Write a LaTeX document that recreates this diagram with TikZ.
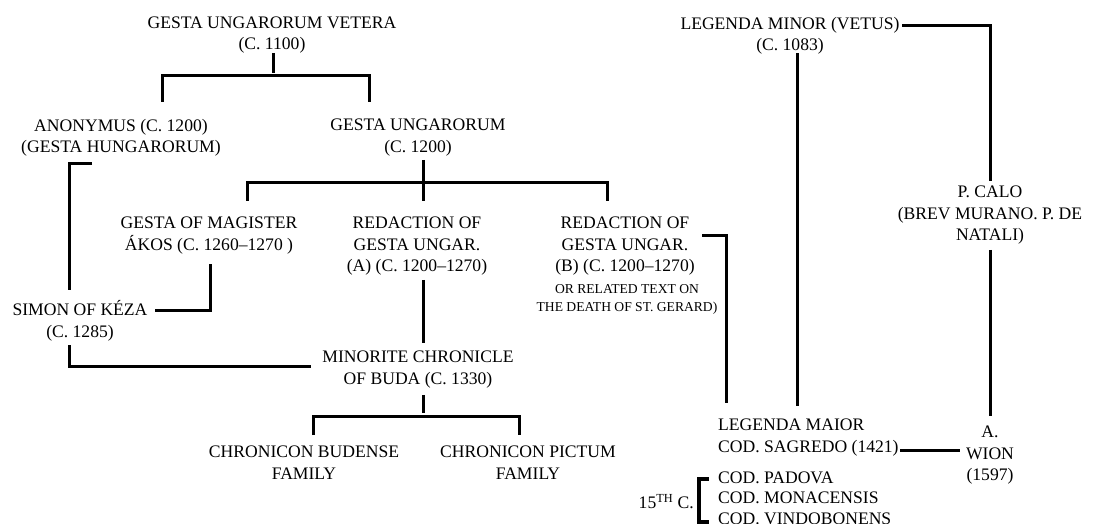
\documentclass[tikz,border=0pt]{standalone}
\usepackage{fontspec}
\setmainfont{Liberation Serif}
\usetikzlibrary{calc}
\begin{document}
\begin{tikzpicture}[x=1pt,y=-1pt,
  txt/.style={inner sep=0pt, align=center, anchor=north,
    font=\fontsize{17.6}{21.7}\selectfont,
    execute at begin node=\strut, execute at end node=\strut},
  small/.style={txt, font=\fontsize{13.6}{18}\selectfont},
  conn/.style={line width=3pt}]
\useasboundingbox (0,0) rectangle (1093,524);
\fill[white] (0,0) rectangle (1093,524);
\clip (0,0) rectangle (1093,524);

% ---- nodes ----
\node[txt] (vetera) at (272,16.3) {GESTA UNGARORUM VETERA\\(C. 1100)};
\node[txt] (anon) at (121,118.6) {ANONYMUS (C. 1200)\\(GESTA HUNGARORUM)};
\node[txt] (gesta) at (418,118.6) {GESTA UNGARORUM\\(C. 1200)};
\node[txt] (akos) at (209,216.6) {GESTA OF MAGISTER\\ÁKOS (C. 1260\textendash1270 )};
\node[txt] (redA) at (417,216.6) {REDACTION OF\\GESTA UNGAR.\\(A) (C. 1200\textendash1270)};
\node[txt] (redB) at (625,216.6) {REDACTION OF\\GESTA UNGAR.\\(B) (C. 1200\textendash1270)};
\node[small] (redBnote) at (627,284.3) {OR RELATED TEXT ON\\THE DEATH OF ST. GERARD)};
\node[txt] (simon) at (80,300.6) {SIMON OF KÉZA\\(C. 1285)};
\node[txt] (minorite) at (418,350.6) {MINORITE CHRONICLE\\OF BUDA (C. 1330)};
\node[txt] (budense) at (304,445.6) {CHRONICON BUDENSE\\FAMILY};
\node[txt] (pictum) at (528,445.6) {CHRONICON PICTUM\\FAMILY};
\node[txt] (lminor) at (790,16.6) {LEGENDA MINOR (VETUS)\\(C. 1083)};
\node[txt] (calo) at (990,185.6) {P. CALO\\(BREV MURANO. P. DE\\NATALI)};
\node[txt] (wion) at (990,425.6) {A.\\WION\\(1597)};
\node[txt, align=left, anchor=north west] (lmaior) at (718,418.6) {LEGENDA MAIOR\\COD. SAGREDO (1421)};
\node[txt, align=left, anchor=north west, font=\fontsize{17.6}{20.5}\selectfont] (codices) at (718,471.4) {COD. PADOVA\\COD. MONACENSIS\\COD. VINDOBONENS};
\node[inner sep=0pt, anchor=base east, font=\fontsize{17.6}{21.7}\selectfont] (c15) at (694,508.8) {15\textsuperscript{TH} C.};

% ---- connectors ----
\draw[conn] ($(vetera.south)+(1,-3.7)$) -- ++(0,20);
\draw[conn] ($(anon.north)+(41,-16.6)$) -- ++(0,-26) -| ($(gesta.north)+(-49,-16.6)$);

\draw[conn] ($(anon.south)+(-29,4)$) -| ($(simon.north)+(-11,-10.6)$);
\draw[conn] ($(simon.north)+(75,9.4)$) -| ($(akos.south)+(1,7)$);
\draw[conn] ($(simon.south)+(-11,1)$) |- ($(minorite.north)+(-107,15.4)$);

\draw[conn] ($(gesta.south)+(5,1)$) -- ($(redA.north)+(6,-15.6)$);
\draw[conn] ($(akos.north)+(38,-15.6)$) -- ++(0,-18) -| ($(redB.north)+(-18,-15.6)$);
\draw[conn] ($(redA.south)+(6,1.3)$) -- ($(minorite.north)+(5,-7.6)$);

\draw[conn] ($(minorite.south)+(5,4)$) -- ++(0,18);
\draw[conn] ($(budense.north)+(9,-10.6)$) -- ++(0,-19) -| ($(pictum.north)+(-9,-10.6)$);

\draw[conn] ($(redB.north)+(77,18.4)$) -| ($(lmaior.north west)+(8,-15.6)$);
\draw[conn] ($(lminor.south)+(7,-4)$) -- ($(lmaior.north west)+(79,-12.6)$);
\draw[conn] ($(lminor.north)+(112,9.1)$) -| ($(calo.north)+(0,-4.6)$);
\draw[conn] ($(calo.south)+(0,2.3)$) -- ($(wion.north)+(0,-9.6)$);
\draw[conn] ($(lmaior.north west)+(182,32.1)$) -- ($(wion.north)+(-30,25.1)$);

\draw[line width=3.5pt] ($(codices.north west)+(-9,7.6)$) -- ++(-10,0) -- ++(0,43) -- ++(10,0);
\end{tikzpicture}
\end{document}
